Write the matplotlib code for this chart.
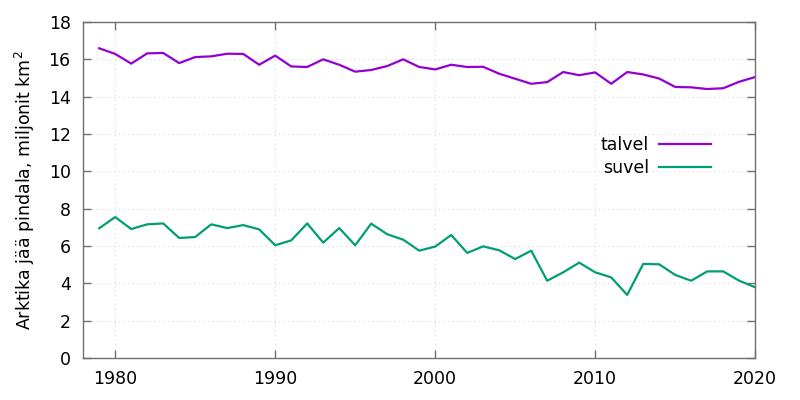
import matplotlib
matplotlib.use("Agg")
import matplotlib.pyplot as plt

years = list(range(1979, 2021))
talvel = [16.59, 16.29, 15.77, 16.32, 16.34, 15.80, 16.12, 16.16, 16.30, 16.29,
          15.71, 16.20, 15.62, 15.59, 16.00, 15.71, 15.34, 15.43, 15.64, 16.00,
          15.59, 15.46, 15.71, 15.59, 15.60, 15.23, 14.96, 14.69, 14.78, 15.32,
          15.15, 15.30, 14.69, 15.32, 15.19, 14.97, 14.52, 14.50, 14.41, 14.45,
          14.80, 15.05]
suvel = [6.95, 7.55, 6.91, 7.16, 7.21, 6.43, 6.48, 7.16, 6.96, 7.12,
         6.89, 6.04, 6.30, 7.21, 6.18, 6.96, 6.04, 7.20, 6.63, 6.34,
         5.75, 5.97, 6.59, 5.63, 5.98, 5.77, 5.30, 5.75, 4.14, 4.59,
         5.11, 4.59, 4.32, 3.38, 5.04, 5.02, 4.45, 4.14, 4.64, 4.64,
         4.14, 3.79]
series_labels = ["talvel", "suvel"]
ylabel = "Arktika jää pindala, miljonit km$^2$"
xticks = [1980, 1990, 2000, 2010, 2020]
yticks = list(range(0, 19, 2))

plt.rcParams['font.family'] = ['DejaVu Sans']
fig = plt.figure(figsize=(8, 4), dpi=100)
ax = fig.add_axes([0.104, 0.105, 0.84, 0.84])

ax.plot(years, talvel, color="#9400d3", lw=1.6, label=series_labels[0])
ax.plot(years, suvel, color="#009e73", lw=1.6, label=series_labels[1])

ax.set_xlim(1978, 2020)
ax.set_ylim(0, 18)
ax.set_xticks(xticks)
ax.set_yticks(yticks)
ax.tick_params(direction="in", length=6, width=1, color="#707070",
               top=True, right=True, labelsize=12.5, pad=9)
ax.grid(True, color="#d8d8d8", linestyle=(0, (1, 3)), lw=0.8)
for s in ax.spines.values():
    s.set_color("#707070")
    s.set_linewidth(1)
ax.set_ylabel(ylabel, fontsize=12.5, labelpad=8)

leg = ax.legend(loc="upper right", bbox_to_anchor=(0.958, 0.708), frameon=False,
                markerfirst=False, fontsize=12.5, handlelength=3.0,
                handletextpad=0.6, labelspacing=0.3)

fig.savefig("out.png", dpi=100)
